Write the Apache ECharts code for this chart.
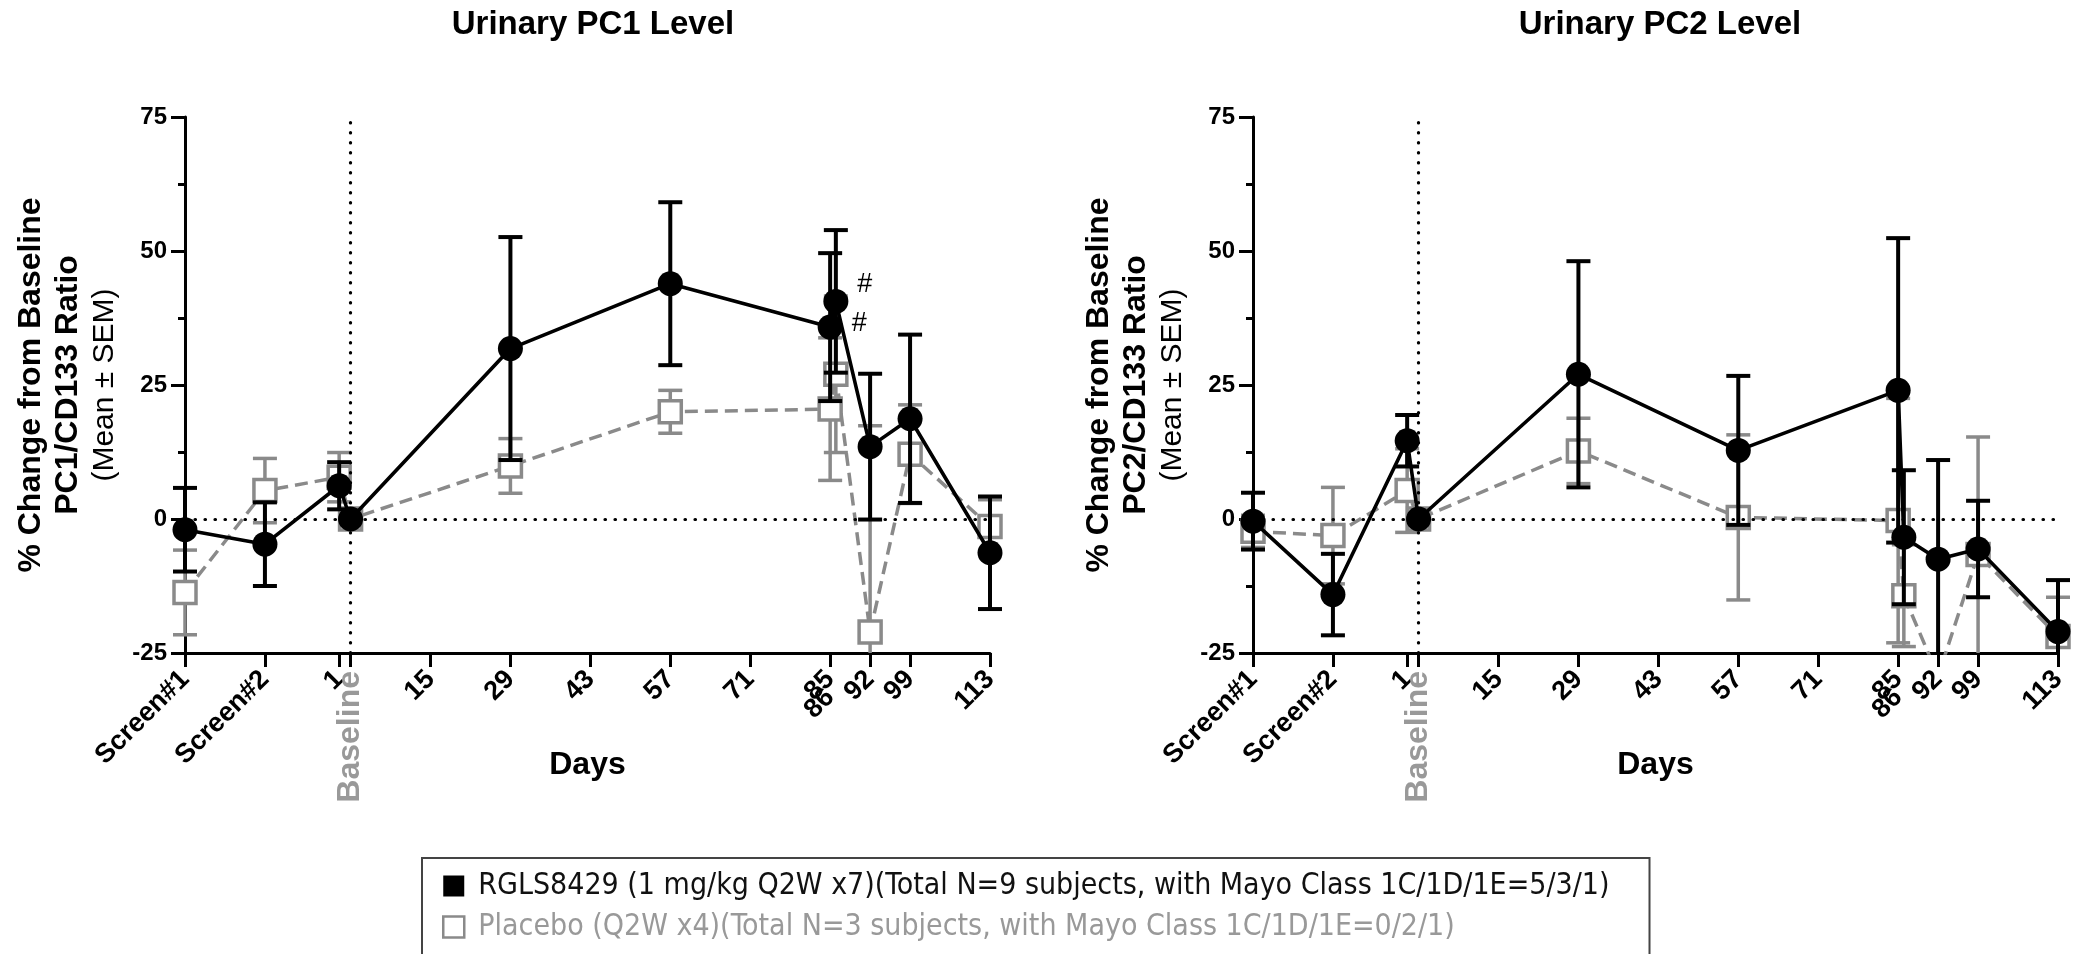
<!DOCTYPE html>
<html><head><meta charset="utf-8">
<script src="https://cdn.jsdelivr.net/npm/echarts@6/dist/echarts.min.js"></script>
<style>html,body{margin:0;padding:0;background:#fff}#c{width:2081px;height:954px}</style>
</head><body><div id="c"></div>
<script>
// ---------- data ----------
const days = [-28, -14, -1, 1, 29, 57, 85, 86, 92, 99, 113];

const pc1DrugMean = [-2.0, -4.7, 6.2, 0, 31.8, 43.9, 35.8, 40.6, 13.5, 18.7, -6.3];
const pc1DrugSem  = [7.8, 7.8, 4.4, 0, 20.8, 15.2, 13.8, 13.3, 13.6, 15.7, 10.5];
const pc1PboMean  = [-13.7, 5.3, 7.8, 0, 9.9, 20.0, 20.5, 27.0, -21.1, 12.1, -1.4];
const pc1PboSem   = [7.9, 6.0, 4.6, 0, 5.1, 4.0, 13.3, 14.6, 38.5, 9.2, 5.0];
const pc1Marks    = ['', '', '', '', '', '', '#', '#', '', '', ''];

const pc2DrugMean = [-0.4, -14.1, 14.6, 0, 27.0, 12.8, 24.0, -3.4, -7.5, -5.6, -21.0];
const pc2DrugSem  = [5.3, 7.6, 4.8, 0, 21.1, 13.9, 28.4, 12.5, 18.5, 9.0, 9.6];
const pc2PboMean  = [-2.3, -3.1, 5.3, 0, 12.7, 0.3, -0.3, -14.3, -29.3, -6.6, -21.9];
const pc2PboSem   = [3.0, 9.0, 7.8, 0, 6.1, 15.4, 22.8, 9.5, 0, 21.9, 7.3];

const xTickValues  = [-28, -14, -1, 1, 15, 29, 43, 57, 71, 85, 92, 99, 113];
const xLabelValues = [-28, -14, -1, 15, 29, 43, 57, 71, 85, 92, 99, 113];
const xLabelTexts  = ['Screen#1', 'Screen#2', '1', '15', '29', '43', '57', '71', '85', '92', '99', '113'];
const baselineDay = 1, baselineText = 'Baseline';
const extraLabelAt = 85, extraLabelText = '86';

const titles = ['Urinary PC1 Level', 'Urinary PC2 Level'];
const yNames = ['PC1/CD133 Ratio', 'PC2/CD133 Ratio'];
const drugName = 'RGLS8429 (1 mg/kg Q2W x7)(Total N=9 subjects, with Mayo Class 1C/1D/1E=5/3/1)';
const pboName  = 'Placebo (Q2W x4)(Total N=3 subjects, with Mayo Class 1C/1D/1E=0/2/1)';

// ---------- chart ----------
const FONT = '"Liberation Sans", Arial, sans-serif';
const GREY = '#8a8a8a';
const chart = echarts.init(document.getElementById('c'), null, {renderer: 'canvas'});

const grids = [
  {left: 185, top: 117, width: 805, height: 536, outerBoundsMode: 'none', containLabel: false},
  {left: 1253, top: 117, width: 805, height: 536, outerBoundsMode: 'none', containLabel: false}
];

function mainX(g) {
  return {
    type: 'value', gridIndex: g, min: -28, max: 113, position: 'bottom',
    axisLine: {show: true, onZero: false, lineStyle: {color: '#000', width: 3}},
    axisTick: {show: true, length: 14, customValues: xTickValues, lineStyle: {color: '#000', width: 3}},
    axisLabel: {customValues: xLabelValues, rotate: 45, margin: 22, fontSize: 27, fontWeight: 'bold',
      color: '#000', fontFamily: FONT,
      formatter: v => xLabelTexts[xLabelValues.indexOf(v)] || ''},
    splitLine: {show: false},
    name: 'Days', nameLocation: 'middle', nameGap: 96, nameMoveOverlap: false,
    nameTextStyle: {fontSize: 32, fontWeight: 'bold', color: '#000', fontFamily: FONT}
  };
}
function labelX(g, at, text, rot, margin, size, color) {
  return {
    type: 'value', gridIndex: g, min: -28, max: 113, position: 'bottom',
    axisLine: {show: false}, axisTick: {show: false}, splitLine: {show: false},
    axisLabel: {customValues: [at], rotate: rot, margin: margin, fontSize: size, fontWeight: 'bold',
      color: color, fontFamily: FONT, formatter: () => text}
  };
}
function yAx(g) {
  return {
    type: 'value', gridIndex: g, min: -25, max: 75, interval: 25,
    axisLine: {show: true, onZero: false, lineStyle: {color: '#000', width: 3}},
    axisTick: {show: true, length: 14, lineStyle: {color: '#000', width: 3}},
    minorTick: {show: true, splitNumber: 2, length: 7, lineStyle: {color: '#000', width: 3}},
    splitLine: {show: false}, minorSplitLine: {show: false},
    axisLabel: {fontSize: 24, fontWeight: 'bold', color: '#000', margin: 18, fontFamily: FONT},
    name: '{a|% Change from Baseline}\n{a|' + yNames[g] + '}\n{b|(Mean ± SEM)}',
    nameLocation: 'middle', nameRotate: 90, nameGap: 62, nameMoveOverlap: false,
    nameTextStyle: {color: '#000', fontFamily: FONT, align: 'center',
      rich: {
        a: {fontSize: 32, fontWeight: 'bold', lineHeight: 37, color: '#000', fontFamily: FONT},
        b: {fontSize: 30, fontWeight: 'normal', lineHeight: 36, color: '#000', fontFamily: FONT}
      }}
  };
}

function errRender(color, lw) {
  return function (params, api) {
    const x = api.value(0), y = api.value(1), e = api.value(2);
    if (!e) return null;
    const cs = params.coordSys;
    const top = api.coord([x, y + e]), bot = api.coord([x, y - e]);
    const lo = cs.y, hi = cs.y + cs.height;
    const yt = Math.max(lo, Math.min(hi, top[1])), yb = Math.max(lo, Math.min(hi, bot[1]));
    const half = 12;
    const st = {stroke: color, lineWidth: lw};
    const ch = [{type: 'line', shape: {x1: top[0], y1: yt, x2: top[0], y2: yb}, style: st}];
    if (top[1] >= lo && top[1] <= hi) ch.push({type: 'line', shape: {x1: top[0] - half, y1: top[1], x2: top[0] + half, y2: top[1]}, style: st});
    if (bot[1] >= lo && bot[1] <= hi) ch.push({type: 'line', shape: {x1: bot[0] - half, y1: bot[1], x2: bot[0] + half, y2: bot[1]}, style: st});
    return {type: 'group', children: ch};
  };
}

const markOffsets = {6: [4, -4], 7: [4, -17]};

function seriesFor(g, dMean, dSem, pMean, pSem, marks) {
  const xi = g * 3, yi = g;
  const drugData = days.map((d, i) => {
    const it = {value: [d, dMean[i]]};
    if (marks && marks[i]) {
      it.label = {show: true, position: 'right', distance: 5, offset: markOffsets[i] || [0, 0],
        formatter: marks[i], fontSize: 27, color: '#000', fontFamily: FONT};
    }
    return it;
  });
  return [
    {type: 'custom', name: 'pboErr' + g, xAxisIndex: xi, yAxisIndex: yi, z: 2, silent: true,
      renderItem: errRender(GREY, 3.5), data: days.map((d, i) => [d, pMean[i], pSem[i]])},
    {type: 'line', name: pboName, xAxisIndex: xi, yAxisIndex: yi, z: 3, clip: true,
      data: days.map((d, i) => [d, pMean[i]]),
      symbol: 'rect', symbolSize: 22, showAllSymbol: true,
      itemStyle: {color: '#fff', borderColor: GREY, borderWidth: 3.5},
      lineStyle: {color: GREY, width: 3.5, type: [13, 7]}},
    {type: 'custom', name: 'drugErr' + g, xAxisIndex: xi, yAxisIndex: yi, z: 4, silent: true,
      renderItem: errRender('#000', 4), data: days.map((d, i) => [d, dMean[i], dSem[i]])},
    {type: 'line', name: drugName, xAxisIndex: xi, yAxisIndex: yi, z: 5, clip: true,
      data: drugData, symbol: 'circle', symbolSize: 25, showAllSymbol: true,
      itemStyle: {color: '#000', borderWidth: 0},
      lineStyle: {color: '#000', width: 3.6},
      markLine: {silent: true, symbol: ['none', 'none'], label: {show: false}, animation: false,
        lineStyle: {color: '#000', width: 3.2, type: [0.5, 9.5], cap: 'round'},
        data: [{yAxis: 0}, {xAxis: baselineDay}]}}
  ];
}

const option = {
  animation: false,
  backgroundColor: '#fff',
  title: titles.map((t, i) => ({
    text: t, left: i === 0 ? 588 : 1655, top: 3, textAlign: 'center',
    textStyle: {fontSize: 33, fontWeight: 'bold', color: '#000', fontFamily: FONT}
  })),
  grid: grids,
  xAxis: [
    mainX(0), labelX(0, baselineDay, baselineText, 90, 18, 32, '#999'), labelX(0, extraLabelAt, extraLabelText, 45, 40, 27, '#000'),
    mainX(1), labelX(1, baselineDay, baselineText, 90, 18, 32, '#999'), labelX(1, extraLabelAt, extraLabelText, 45, 40, 27, '#000')
  ],
  yAxis: [yAx(0), yAx(1)],
  legend: {
    orient: 'vertical', left: 422, top: 858, height: 220, selectedMode: false,
    itemWidth: 21, itemHeight: 21, itemGap: 7,
    padding: [11, 40, 40, 20],
    borderColor: '#444', borderWidth: 2, backgroundColor: '#fff',
    textStyle: {fontSize: 30, lineHeight: 34, fontFamily: '"DejaVu Sans Condensed", sans-serif', padding: [0, 0, 0, 9]},
    data: [
      {name: drugName, icon: 'rect', itemStyle: {color: '#000', borderWidth: 0}, textStyle: {color: '#111'}},
      {name: pboName, icon: 'rect', itemStyle: {color: '#fff', borderColor: GREY, borderWidth: 2.5}, textStyle: {color: '#999'}}
    ]
  },
  series: [
    ...seriesFor(0, pc1DrugMean, pc1DrugSem, pc1PboMean, pc1PboSem, pc1Marks),
    ...seriesFor(1, pc2DrugMean, pc2DrugSem, pc2PboMean, pc2PboSem, null)
  ]
};
chart.setOption(option);
</script>
</body></html>
